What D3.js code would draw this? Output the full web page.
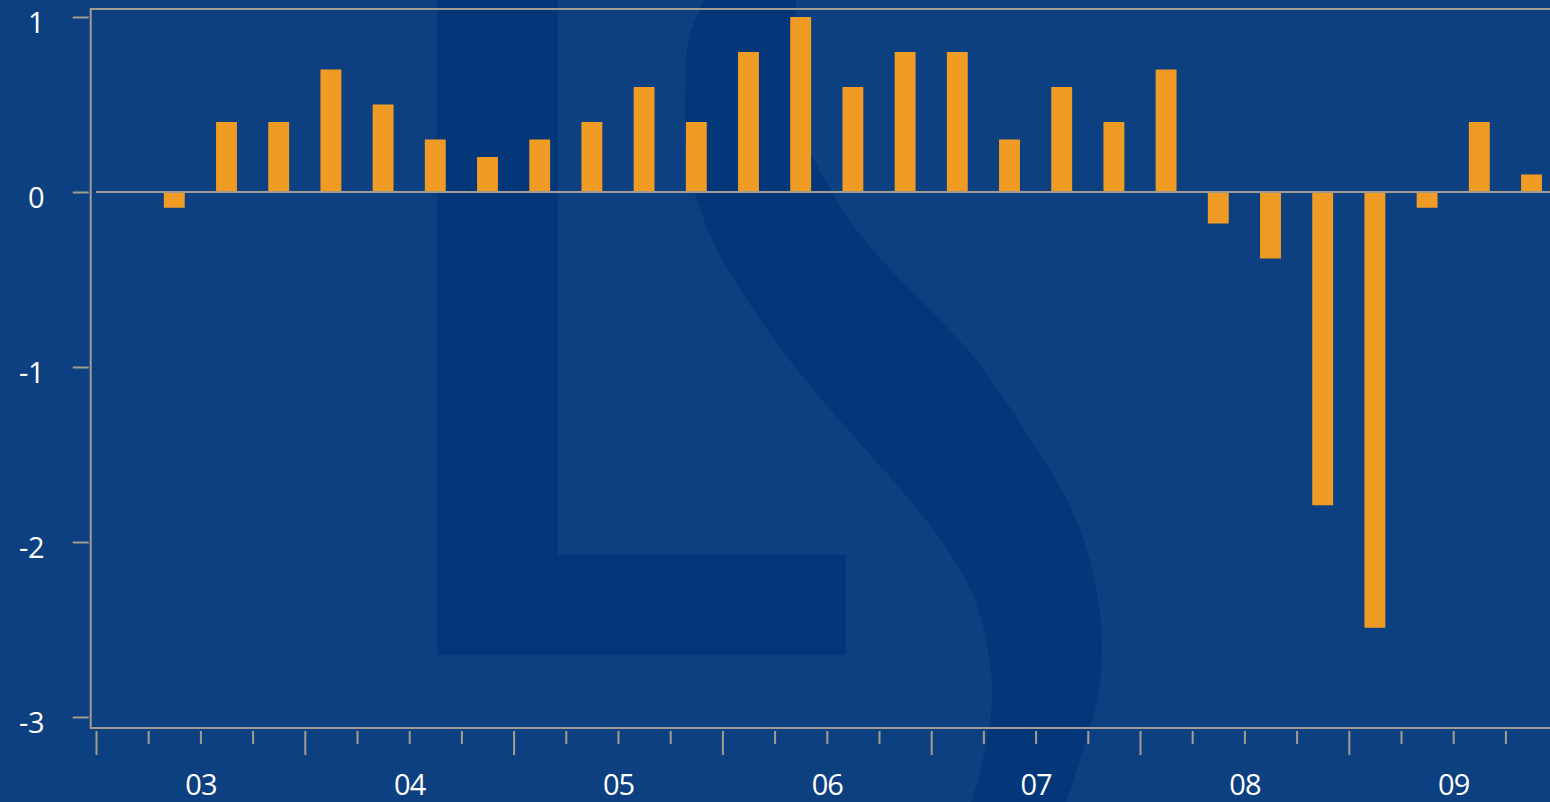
<!DOCTYPE html>
<html>
<head>
<meta charset="utf-8">
<script src="https://cdn.jsdelivr.net/npm/d3@7"></script>
<style>
  html, body { margin: 0; padding: 0; background: #0d4080; overflow: hidden; }
  svg { display: block; }
  text { font-family: "Open Sans", "Noto Sans", sans-serif; fill: #ffffff; }
</style>
</head>
<body>
<svg id="chart" width="1550" height="802"></svg>
<script>
// ---- data ----
const quarters = [
  "2003Q1","2003Q2","2003Q3","2003Q4",
  "2004Q1","2004Q2","2004Q3","2004Q4",
  "2005Q1","2005Q2","2005Q3","2005Q4",
  "2006Q1","2006Q2","2006Q3","2006Q4",
  "2007Q1","2007Q2","2007Q3","2007Q4",
  "2008Q1","2008Q2","2008Q3","2008Q4",
  "2009Q1","2009Q2","2009Q3","2009Q4"
];
const values = [
  null, -0.09, 0.4, 0.4,
  0.7, 0.5, 0.3, 0.2,
  0.3, 0.4, 0.6, 0.4,
  0.8, 1.0, 0.6, 0.8,
  0.8, 0.3, 0.6, 0.4,
  0.7, -0.18, -0.38, -1.79,
  -2.49, -0.09, 0.4, 0.1
];
const years = [2003, 2004, 2005, 2006, 2007, 2008, 2009];
const yearLabels = ["03", "04", "05", "06", "07", "08", "09"];
const yTicks = [-3, -2, -1, 0, 1];

// ---- layout ----
const W = 1550, H = 802;
const plotLeft = 90.7, plotTop = 9, plotBottom = 728;
const xStart = 96, xEnd = 1557.6;
const axisColor = "#a39d90";
const barColor = "#f09c24";
const markColor = "#04367a";

const svg = d3.select("#chart");

// background
svg.append("rect").attr("width", W).attr("height", H).attr("fill", "#0d4080");

// watermark "LS" logo
const wm = svg.append("g").attr("fill", markColor);
wm.append("path").attr("d",
  "M437,-10 L558,-10 L558,555 L846,555 L846,655 L437,655 Z");
const leftEdge = [[708,-10],[700,10],[690,33],[685,100],[688,167],[697,200],[717,250],
  [747,300],[782,350],[822,400],[866,450],[910,500],[948,550],[975,600],[988,650],[992,700],
  [985,750],[972,800],[968,812]];
const rightEdge = [[1063,812],[1067,800],[1083,750],[1097,700],[1102,650],[1098,600],
  [1087,550],[1067,500],[1037,450],[1005,400],[968,350],[903,283],[873,250],[847,217],[827,183],
  [810,150],[800,100],[797,30],[795,-10]];
const edgeLine = d3.line().curve(d3.curveCatmullRom.alpha(0.5));
wm.append("path").attr("d",
  edgeLine(leftEdge) + "L" + edgeLine(rightEdge).slice(1) + "Z");

// scales
const xBand = d3.scaleBand().domain(quarters).range([xStart, xEnd])
  .paddingInner(0.6).paddingOuter(0.3);
const xLin = d3.scaleLinear().domain([2003, 2010]).range([xStart, xEnd]);
const y = d3.scaleLinear().domain([-3, 1]).range([717, 17]);

// bars
const data = quarters.map((q, i) => ({ q, v: values[i] })).filter(d => d.v !== null);
svg.append("g").selectAll("rect").data(data).join("rect")
  .attr("x", d => xBand(d.q))
  .attr("width", xBand.bandwidth())
  .attr("y", d => d.v >= 0 ? y(d.v) : y(0))
  .attr("height", d => Math.abs(y(d.v) - y(0)))
  .attr("fill", barColor);

// zero line
svg.append("line")
  .attr("x1", xStart).attr("x2", W)
  .attr("y1", y(0)).attr("y2", y(0))
  .attr("stroke", axisColor).attr("stroke-width", 2);

// frame
const frame = svg.append("g").attr("stroke", axisColor).attr("stroke-width", 2).attr("fill", "none");
frame.append("path").attr("d",
  `M${W + 5},${plotTop} L${plotLeft},${plotTop} L${plotLeft},${plotBottom} L${W + 5},${plotBottom}`);

// y axis ticks & labels
const yAxis = d3.axisLeft(y).tickValues(yTicks).tickSize(16).tickPadding(0)
  .tickFormat(d => d);
const gy = svg.append("g").attr("transform", `translate(${plotLeft - 2},0)`).call(yAxis);
gy.select(".domain").remove();
gy.selectAll(".tick line").attr("stroke", axisColor).attr("stroke-width", 2);
gy.selectAll(".tick text")
  .attr("x", -(plotLeft - 2) + 44)
  .attr("dy", null)
  .attr("y", 15.5)
  .attr("text-anchor", "end")
  .style("font-size", "29px")
  .style("letter-spacing", "-0.5px")
  .attr("fill", "#ffffff")
  .text(d => d < 0 ? "-" + Math.abs(d) : d);

// x axis: year ticks (major) and quarter ticks (minor)
const quarterTicks = [];
years.forEach(yr => [0.25, 0.5, 0.75].forEach(f => quarterTicks.push(yr + f)));
const gMinor = svg.append("g").attr("transform", `translate(0,${plotBottom + 3})`)
  .call(d3.axisBottom(xLin).tickValues(quarterTicks).tickSize(13).tickFormat(""));
gMinor.select(".domain").remove();
gMinor.selectAll(".tick line").attr("stroke", axisColor).attr("stroke-width", 2);

const gMajor = svg.append("g").attr("transform", `translate(0,${plotBottom + 3})`)
  .call(d3.axisBottom(xLin).tickValues(years).tickSize(24).tickFormat(""));
gMajor.select(".domain").remove();
gMajor.selectAll(".tick line").attr("stroke", axisColor).attr("stroke-width", 2);

const gLab = svg.append("g").attr("transform", `translate(0,${plotBottom})`)
  .call(d3.axisBottom(xLin).tickValues(years.map(v => v + 0.5)).tickSize(0)
    .tickFormat((d, i) => yearLabels[i]));
gLab.select(".domain").remove();
gLab.selectAll(".tick text")
  .attr("y", 67).attr("dy", null)
  .style("font-size", "29px")
  .style("letter-spacing", "-1px")
  .attr("fill", "#ffffff");
</script>
</body>
</html>
